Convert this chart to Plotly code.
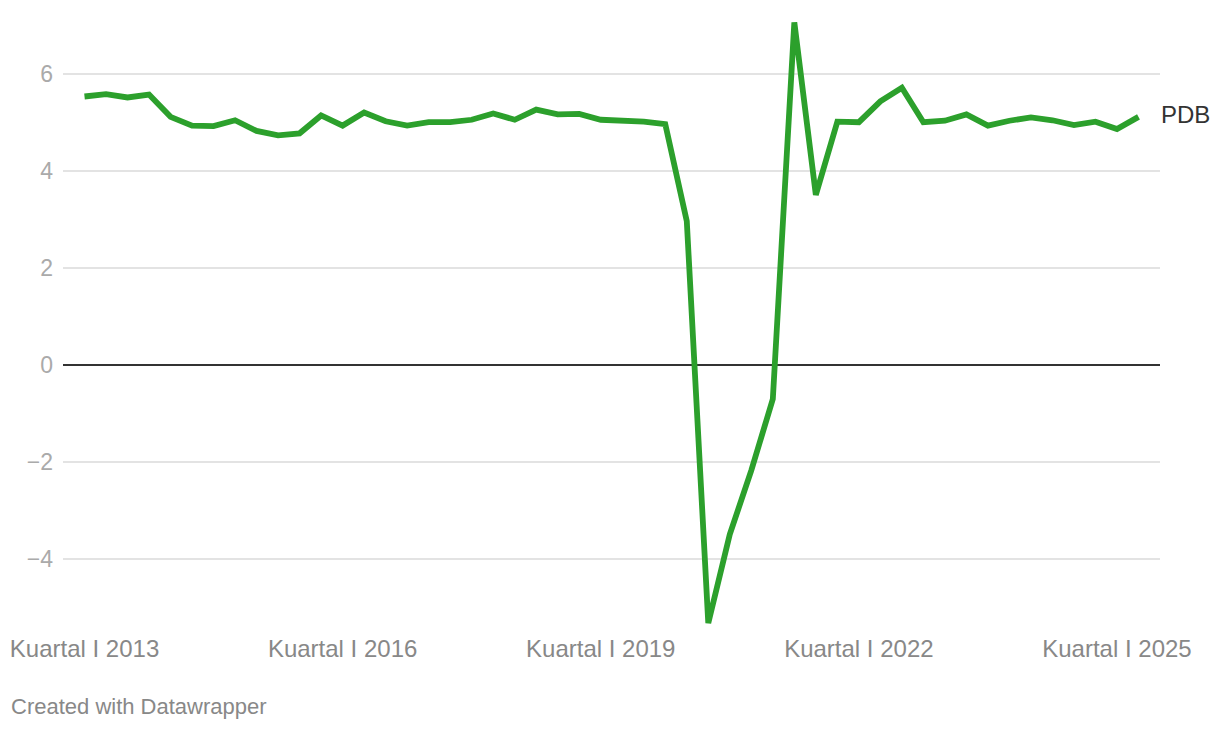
import plotly.graph_objects as go

# Quarterly GDP growth (% y/y), Q1 2013 .. Q2 2025
years = list(range(2013, 2026))
quarters = ["I", "II", "III", "IV"]
periods = [f"Kuartal {q} {y}" for y in years for q in quarters][:50]

pdb = [
    5.54, 5.59, 5.52, 5.58,
    5.12, 4.94, 4.93, 5.05,
    4.83, 4.74, 4.78, 5.15,
    4.94, 5.21, 5.03, 4.94,
    5.01, 5.01, 5.06, 5.19,
    5.06, 5.27, 5.17, 5.18,
    5.06, 5.05, 5.02, 4.97,
    2.97, -5.32, -3.49, -2.17,
    -0.70, 7.07, 3.51, 5.02,
    5.01, 5.44, 5.72, 5.01,
    5.04, 5.17, 4.94, 5.04,
    5.11, 5.05, 4.95, 5.02,
    4.87, 5.12,
]

x_tick_labels = ["Kuartal I 2013", "Kuartal I 2016", "Kuartal I 2019", "Kuartal I 2022", "Kuartal I 2025"]
y_ticks = [-4, -2, 0, 2, 4, 6]
y_tick_labels = ["\u22124", "\u22122", "0", "2", "4", "6"]

FONT = "Liberation Sans, Arial, Helvetica, sans-serif"
GREEN = "#2ca02c"

idx = list(range(len(pdb)))
x_tick_pos = [periods.index(t) for t in x_tick_labels]

fig = go.Figure()
fig.add_trace(go.Scatter(
    x=idx, y=pdb, mode="lines", name="PDB",
    line=dict(color=GREEN, width=5.8),
    hovertext=periods, hoverinfo="text+y",
))

fig.add_annotation(
    xref="paper", x=1, y=pdb[-1], text="PDB", showarrow=False,
    xanchor="left", yanchor="middle", xshift=-1, yshift=2,
    font=dict(family=FONT, size=24, color="#333333"),
)

fig.add_annotation(
    xref="paper", yref="paper", x=0, y=0, xshift=-54, yshift=-79,
    xanchor="left", yanchor="middle", showarrow=False,
    text="Created with Datawrapper",
    font=dict(family=FONT, size=22, color="#888888"),
)

fig.update_layout(
    width=1220, height=730,
    margin=dict(l=63, r=60, t=16, b=103),
    plot_bgcolor="white", paper_bgcolor="white",
    showlegend=False,
    font=dict(family=FONT),
    xaxis=dict(
        range=[-1, 50],
        tickvals=x_tick_pos, ticktext=x_tick_labels,
        showgrid=False, zeroline=False, showline=False, ticks="",
        tickfont=dict(family=FONT, size=24, color="#888888"),
        ticklabelstandoff=5, automargin=False,
    ),
    yaxis=dict(
        range=[-5.4, 7.2],
        tickvals=y_ticks, ticktext=y_tick_labels,
        showgrid=True, gridcolor="#e3e3e3", gridwidth=1.5,
        zeroline=True, zerolinecolor="#333333", zerolinewidth=1.5,
        showline=False, ticks="",
        tickfont=dict(family=FONT, size=23, color="#aaaaaa"),
        ticklabelstandoff=9, automargin=False,
    ),
)

# drop the default page margin so the figure sits at the window's corner
fig.write_html(
    "out.html",
    config={"displayModeBar": False},
    post_script="document.body.style.margin='0';",
)
